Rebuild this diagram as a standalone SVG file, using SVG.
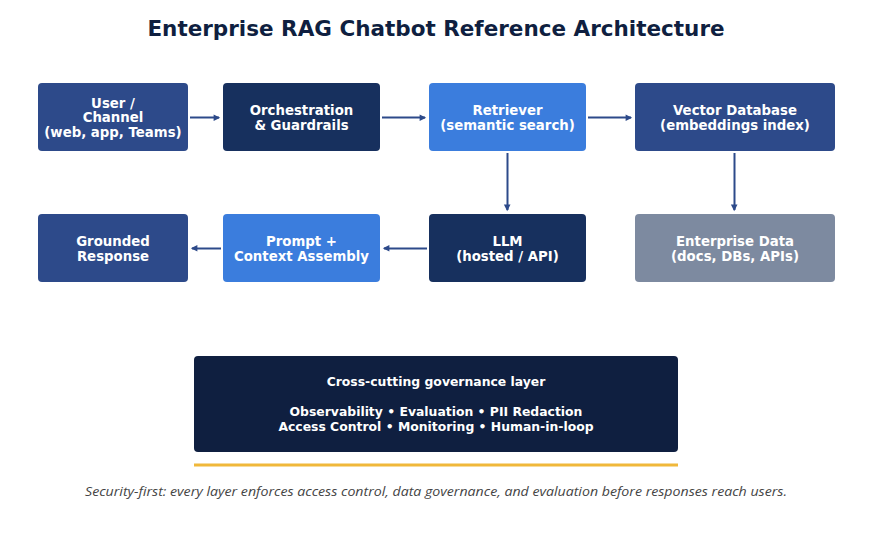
<svg xmlns="http://www.w3.org/2000/svg" width="872" height="543" viewBox="0 0 872 543">
<style>
.t{font-family:"DejaVu Sans",sans-serif;font-weight:bold;fill:#fff;font-size:13.3px;text-anchor:middle;dominant-baseline:central}
.g{font-size:12.4px}
.e{stroke:#2d4a8a;stroke-width:2;fill:none;marker-end:url(#ah)}
</style>
<defs>
<marker id="ah" viewBox="0 0 10 10" refX="9" refY="5" markerWidth="6" markerHeight="6" markerUnits="userSpaceOnUse" orient="auto" overflow="visible">
<path d="M0,0 L10,5 L0,10 Z" fill="#2d4a8a" transform="scale(1.1)"/>
</marker>
</defs>
<rect width="872" height="543" fill="#fff"/>
<text x="436" y="28" font-family="DejaVu Sans,sans-serif" font-weight="bold" font-size="21.5" fill="#0f1f40" text-anchor="middle" dominant-baseline="central">Enterprise RAG Chatbot Reference Architecture</text>
<g id="connectors">
<path class="e" d="M190,117.5 H219"/>
<path class="e" d="M382,117.5 H425"/>
<path class="e" d="M588,117.5 H631"/>
<path class="e" d="M507.5,153 V210"/>
<path class="e" d="M734.5,153 V210"/>
<path class="e" d="M427,248.5 H384"/>
<path class="e" d="M221,248.5 H192"/>
</g>
<g id="user"><rect x="38" y="83" width="150" height="68" rx="4" fill="#2d4a8a"/>
<text class="t" x="113" y="103">User /</text><text class="t" x="113" y="117.5">Channel</text><text class="t" x="113" y="132">(web, app, Teams)</text></g>
<g id="orch"><rect x="223" y="83" width="157" height="68" rx="4" fill="#17305e"/>
<text class="t" x="301.5" y="110">Orchestration</text><text class="t" x="301.5" y="125">&amp; Guardrails</text></g>
<g id="retriever"><rect x="429" y="83" width="157" height="68" rx="4" fill="#3b7ddd"/>
<text class="t" x="507.5" y="110">Retriever</text><text class="t" x="507.5" y="125">(semantic search)</text></g>
<g id="vectordb"><rect x="635" y="83" width="200" height="68" rx="4" fill="#2d4a8a"/>
<text class="t" x="735" y="110">Vector Database</text><text class="t" x="735" y="125">(embeddings index)</text></g>
<g id="grounded"><rect x="38" y="214" width="150" height="68" rx="4" fill="#2d4a8a"/>
<text class="t" x="113" y="241">Grounded</text><text class="t" x="113" y="256">Response</text></g>
<g id="prompt"><rect x="223" y="214" width="157" height="68" rx="4" fill="#3b7ddd"/>
<text class="t" x="301.5" y="241">Prompt +</text><text class="t" x="301.5" y="256">Context Assembly</text></g>
<g id="llm"><rect x="429" y="214" width="157" height="68" rx="4" fill="#17305e"/>
<text class="t" x="507.5" y="241">LLM</text><text class="t" x="507.5" y="256">(hosted / API)</text></g>
<g id="enterprise"><rect x="635" y="214" width="200" height="68" rx="4" fill="#7d8aa0"/>
<text class="t" x="735" y="241">Enterprise Data</text><text class="t" x="735" y="256">(docs, DBs, APIs)</text></g>
<g id="governance"><rect x="194" y="356" width="484" height="96" rx="4" fill="#0f1f40"/>
<text class="t g" x="436" y="381">Cross-cutting governance layer</text>
<text class="t g" x="436" y="411">Observability • Evaluation • PII Redaction</text>
<text class="t g" x="436" y="426">Access Control • Monitoring • Human-in-loop</text></g>
<line x1="194" y1="465" x2="678" y2="465" stroke="#f0b83a" stroke-width="3"/>
<text x="436" y="491" font-family="Open Sans,sans-serif" font-style="italic" font-size="13.2" fill="#444" text-anchor="middle" dominant-baseline="central" textLength="702" lengthAdjust="spacingAndGlyphs">Security-first: every layer enforces access control, data governance, and evaluation before responses reach users.</text>
</svg>
